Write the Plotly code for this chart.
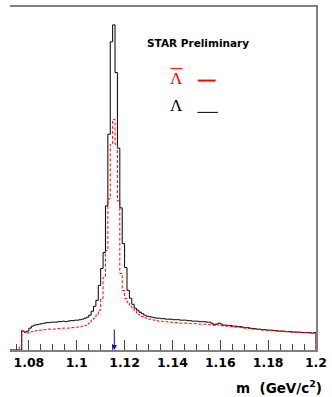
import numpy as np
import plotly.graph_objects as go

# ---- data (1 MeV bins from 1.072 to 1.200 GeV/c^2, arbitrary counts) ----
BIN_START = 1.072
BIN_WIDTH = 0.001
LAMBDA_MASS = 1.1157

lambda_counts = [
    0, 0, 0, 0, 0,                                   # 1.072-1.076
    190, 180, 190, 220, 240, 250, 255, 260, 265, 270,  # 1.077-1.086
    275, 275, 280, 280, 280, 285, 285, 290, 285, 290,  # 1.087-1.096
    295, 295, 300, 300, 305, 310, 320, 330, 350, 390,  # 1.097-1.106
    440, 500, 650, 820, 980, 1450, 2170, 3100, 3270, 2790,  # 1.107-1.116
    2030, 1430, 1070, 830, 600, 520, 460, 420, 400, 380,    # 1.117-1.126
    365, 350, 340, 335, 330, 325, 320, 320, 315, 315,  # 1.127-1.136
    310, 310, 310, 305, 305, 305, 300, 300, 300, 295,  # 1.137-1.146
    295, 290, 290, 290, 285, 285, 285, 280, 280, 270,  # 1.147-1.156
    250, 260, 270, 260, 250, 250, 245, 245, 240, 240,  # 1.157-1.166
    235, 235, 230, 225, 225, 220, 215, 215, 210, 210,  # 1.167-1.176
    205, 205, 200, 200, 200, 195, 195, 190, 190, 190,  # 1.177-1.186
    185, 185, 185, 180, 180, 180, 180, 175, 175, 175,  # 1.187-1.196
    175, 170, 175,                                     # 1.197-1.199
]

antilambda_counts = [
    0, 0, 0, 0, 40,                                  # 1.072-1.076
    200, 180, 170, 180, 185, 190, 195, 200, 200, 205,  # 1.077-1.086
    205, 210, 210, 210, 215, 215, 215, 220, 220, 220,  # 1.087-1.096
    225, 225, 230, 230, 235, 240, 245, 260, 270, 300,  # 1.097-1.106
    320, 350, 400, 520, 730, 1000, 1520, 2070, 2320, 2070,  # 1.107-1.116
    1500, 770, 600, 520, 480, 450, 420, 390, 370, 350,      # 1.117-1.126
    335, 325, 315, 310, 305, 300, 295, 290, 290, 285,  # 1.127-1.136
    285, 280, 280, 275, 275, 275, 270, 270, 270, 270,  # 1.137-1.146
    265, 265, 265, 265, 260, 260, 260, 260, 255, 255,  # 1.147-1.156
    260, 255, 250, 245, 240, 240, 235, 235, 230, 230,  # 1.157-1.166
    225, 225, 220, 220, 215, 215, 210, 210, 205, 205,  # 1.167-1.176
    200, 200, 200, 195, 195, 195, 190, 190, 190, 185,  # 1.177-1.186
    185, 185, 180, 180, 180, 180, 175, 175, 175, 175,  # 1.187-1.196
    170, 170, 170,                                     # 1.197-1.199
]

tick_vals = [1.08, 1.10, 1.12, 1.14, 1.16, 1.18, 1.20]
tick_text = ["1.08", "1.1", "1.12", "1.14", "1.16", "1.18", "1.2"]

x_range = [1.0721, 1.2]
y_range = [0, 3450]

assert len(lambda_counts) == 128 and len(antilambda_counts) == 128


def step_xy(counts):
    edges = BIN_START + BIN_WIDTH * np.arange(len(counts) + 1)
    xs = [edges[0]] + list(edges[:-1]) + [edges[-1], edges[-1]]
    ys = [0] + list(counts) + [counts[-1], 0]
    return xs, ys


fig = go.Figure()
lx, ly = step_xy(lambda_counts)
fig.add_trace(go.Scatter(x=lx, y=ly, mode="lines", line_shape="hv",
                         line=dict(color="black", width=1), hoverinfo="skip",
                         showlegend=False))
ax_, ay_ = step_xy(antilambda_counts)
fig.add_trace(go.Scatter(x=ax_, y=ay_, mode="lines", line_shape="hv",
                         line=dict(color="#ff0000", width=1, dash="3px,2px"),
                         hoverinfo="skip", showlegend=False))

fig.update_layout(
    width=332, height=397,
    margin=dict(l=10, r=8, t=5, b=47),
    paper_bgcolor="white", plot_bgcolor="white",
    showlegend=False,
    xaxis=dict(
        range=x_range, showgrid=False, zeroline=False,
        showline=True, linecolor="#808080", linewidth=2, mirror=True,
        ticks="inside", ticklen=10, tickwidth=1, tickcolor="#444444",
        tickvals=tick_vals, ticktext=tick_text,
        minor=dict(ticks="inside", ticklen=6, tickwidth=1, tickcolor="#444444",
                   dtick=0.005, tick0=1.08, showgrid=False),
        tickfont=dict(family="DejaVu Sans", size=12.5, color="black", weight="bold"),
        ticklabeloverflow="allow",
        layer="below traces",
    ),
    yaxis=dict(
        range=y_range, showgrid=False, zeroline=False,
        showline=True, side="right", linecolor="#808080", linewidth=2,
        ticks="", showticklabels=False, layer="below traces",
    ),
)

def px_to_paper(px, py):
    return (px - 10) / 314.0, (350 - py) / 345.0

annotations = []
xp, yp = px_to_paper(203, 41)
annotations.append(dict(text="<b>STAR Preliminary</b>", x=xp, y=yp, xref="paper", yref="paper",
                        showarrow=False, xanchor="center", yanchor="middle",
                        font=dict(family="DejaVu Sans", size=10.5, color="black")))
xp, yp = px_to_paper(181, 77)
annotations.append(dict(text="\u039b", x=xp, y=yp, xref="paper", yref="paper",
                        showarrow=False, xanchor="center", yanchor="middle",
                        font=dict(family="Liberation Serif", size=17, color="#ff0000")))
xp, yp = px_to_paper(181, 104)
annotations.append(dict(text="\u039b", x=xp, y=yp, xref="paper", yref="paper",
                        showarrow=False, xanchor="center", yanchor="middle",
                        font=dict(family="Liberation Serif", size=17, color="black")))
xp, yp = px_to_paper(324, 387)
annotations.append(dict(text="m  (GeV/c<sup>2</sup>)", x=1.0, y=yp, xref="paper", yref="paper",
                        showarrow=False, xanchor="right", yanchor="middle", xshift=8,
                        font=dict(family="DejaVu Sans", size=13.5, color="black", weight="bold")))
annotations.append(dict(text="", x=LAMBDA_MASS, y=0, xref="x", yref="y",
                        showarrow=True, ax=0, ay=-22, arrowhead=2, arrowsize=1,
                        arrowwidth=1, arrowcolor="#0000ff"))
fig.update_layout(annotations=annotations)

shapes = []
# overbar of the anti-lambda symbol
x0, y0 = px_to_paper(174.5, 67)
x1, _ = px_to_paper(187, 67)
shapes.append(dict(type="line", xref="paper", yref="paper", x0=x0, x1=x1, y0=y0, y1=y0,
                   line=dict(color="#ff0000", width=1)))
# legend line samples
x0, y0 = px_to_paper(202.7, 79)
x1, _ = px_to_paper(221, 79)
shapes.append(dict(type="line", xref="paper", yref="paper", x0=x0, x1=x1, y0=y0, y1=y0,
                   line=dict(color="#ff0000", width=2)))
x0, y0 = px_to_paper(202.3, 111)
x1, _ = px_to_paper(223.3, 111)
shapes.append(dict(type="line", xref="paper", yref="paper", x0=x0, x1=x1, y0=y0, y1=y0,
                   line=dict(color="black", width=1)))
fig.update_layout(shapes=shapes)

fig.write_html("out.html")
